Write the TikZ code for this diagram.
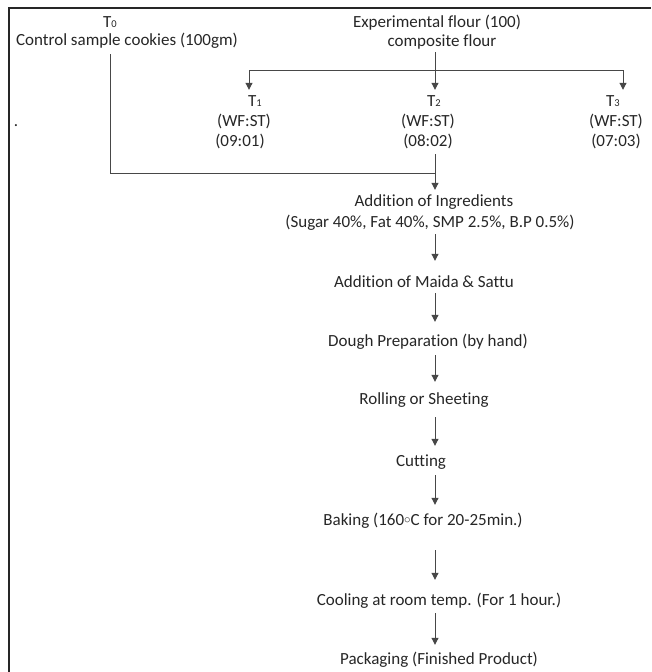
\documentclass[tikz,border=0pt]{standalone}
\usepackage{fontspec}
\setmainfont[Ligatures={NoCommon}]{Carlito}
\usetikzlibrary{arrows.meta}
\newcommand{\sbs}[1]{\raisebox{-0.8pt}{\fontsize{10.5}{10.5}\selectfont #1}}
\begin{document}
\begin{tikzpicture}[x=1pt,y=-1pt,
  txt/.style={anchor=base,inner sep=0pt,text=black!85,font=\fontsize{17}{20}\selectfont},
  stepbox/.style={txt,text height=12pt,text depth=4pt},
  conn/.style={draw=black!72,line width=1pt},
  arr/.style={conn,-{Triangle[length=7pt,width=7pt]}}]
\useasboundingbox (0,0) rectangle (651,672);
\draw[line width=2.2pt,black!85] (9,672) -- (9,8) -- (651,8);
% top texts
\node[txt] (t0a) at (110,27) {T\sbs{0}};
\node[txt] (t0b) at (127,45) {Control sample cookies (100gm)};
\node[txt] (exa) at (437,27) {Experimental flour (100)};
\node[stepbox] (exb) at (442,46) {composite flour};
\node[txt] (dot) at (16,126) {.};
% treatments
\node[stepbox] (t1a) at (255,106) {T\sbs{1}};
\node[txt] (t1b) at (244,126) {(WF:ST)};
\node[txt] (t1c) at (240,146) {(09:01)};
\node[stepbox] (t2a) at (434,106) {T\sbs{2}};
\node[txt] (t2b) at (428,126) {(WF:ST)};
\node[stepbox] (t2c) at (428,146) {(08:02)};
\node[stepbox] (t3a) at (613,106) {T\sbs{3}};
\node[txt] (t3b) at (616,126) {(WF:ST)};
\node[txt] (t3c) at (616,146) {(07:03)};
% spine
\coordinate (spine) at (435,0);
\coordinate (hl) at (249,70);
\coordinate (hr) at (623,70);
\coordinate (c0) at (110,173);
% steps
\node[stepbox] (ing) at (434,206) {Addition of Ingredients};
\node[stepbox] (sug) at (430,227) {(Sugar 40\%, Fat 40\%, SMP 2.5\%, B.P 0.5\%)};
\node[stepbox] (mai) at (424,287) {Addition of Maida \& Sattu};
\node[stepbox] (dou) at (428,346) {Dough Preparation (by hand)};
\node[stepbox] (rol) at (424,404) {Rolling or Sheeting};
\node[stepbox] (cut) at (421,466) {Cutting};
\node[stepbox] (bak) at (423,525) {Baking (160\raisebox{1.8pt}{\scalebox{0.75}{$\circ$}}C for 20-25min.)};
\node[stepbox] (coo) at (439,605) {Cooling at room temp. (For 1 hour.)};
\node[stepbox] (pac) at (439,664) {Packaging (Finished Product)};
% connectors top
\draw[arr,shorten <=2pt,shorten >=4pt] (exb.south -| spine) -- (t2a.north -| spine);
\draw[conn] (hl) -- (hr);
\draw[arr,shorten >=4pt] (hl) -- (hl |- t1a.north);
\draw[arr,shorten >=4pt] (hr) -- (hr |- t3a.north);
\draw[conn,shorten <=6pt] (t0b.south -| c0) -- (c0) -- (c0 -| spine);
\draw[arr,shorten <=4pt,shorten >=4pt] (t2c.south -| spine) -- (ing.north -| spine);
% step connectors
\draw[arr,shorten <=3pt,shorten >=14pt] (sug.south -| spine) -- (mai.north -| spine);
\draw[arr,shorten <=2pt,shorten >=12pt] (mai.south -| spine) -- (dou.north -| spine);
\draw[arr,shorten <=5pt,shorten >=10pt] (dou.south -| spine) -- (rol.north -| spine);
\draw[arr,shorten <=9pt,shorten >=8pt] (rol.south -| spine) -- (cut.north -| spine);
\draw[arr,shorten <=5pt,shorten >=8pt] (cut.south -| spine) -- (bak.north -| spine);
\draw[arr,shorten <=21pt,shorten >=13pt] (bak.south -| spine) -- (coo.north -| spine);
\draw[arr,shorten <=4pt,shorten >=7pt] (coo.south -| spine) -- (pac.north -| spine);
\end{tikzpicture}
\end{document}
